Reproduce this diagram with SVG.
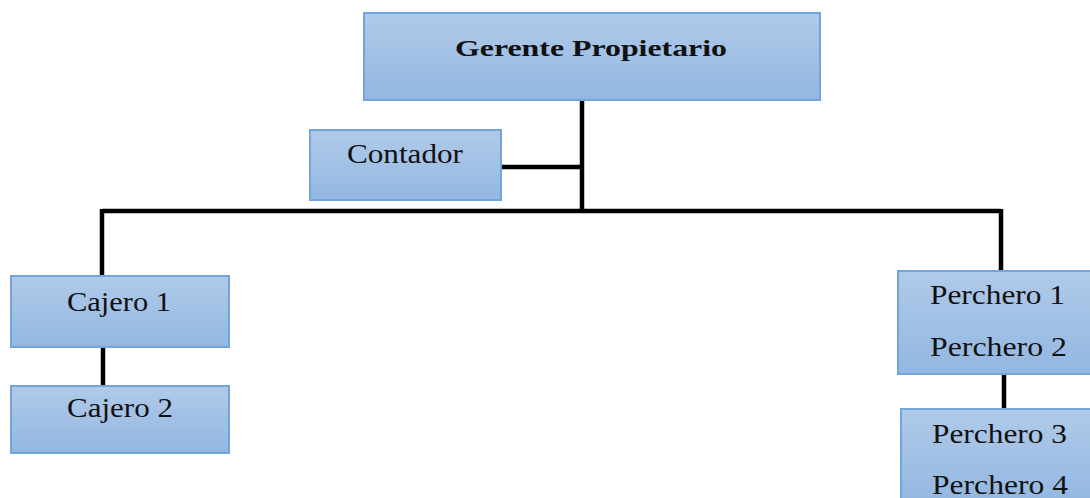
<svg xmlns="http://www.w3.org/2000/svg" width="1090" height="498" viewBox="0 0 1090 498">
<defs>
<linearGradient id="g" x1="0" y1="0" x2="0" y2="1">
<stop offset="0" stop-color="#b0cae9"/>
<stop offset="1" stop-color="#93b7e1"/>
</linearGradient>
</defs>
<style>
.box{fill:url(#g);stroke:#72a5dc;stroke-width:2}
.t{font-family:"Liberation Serif","Times New Roman",serif;font-size:27px;fill:#111;text-anchor:start}
.b{font-weight:bold;font-size:24px}
.c{fill:none;stroke:#000;stroke-width:4.5}
</style>
<g id="connectors">
<path class="c" d="M582 100 V211"/>
<path class="c" d="M501 167 H582"/>
<path class="c" d="M102 211 H1001"/>
<path class="c" d="M102 209 V276"/>
<path class="c" d="M1001 209 V271"/>
<path class="c" d="M103 348 V386"/>
<path class="c" d="M1004 374 V409"/>
</g>
<g id="gerente">
<rect class="box" x="364" y="13" width="456" height="87"/>
<text class="t b" x="455" y="56" textLength="272" lengthAdjust="spacingAndGlyphs">Gerente Propietario</text>
</g>
<g id="contador">
<rect class="box" x="310" y="130" width="191" height="70"/>
<text class="t" x="347" y="163" textLength="116" lengthAdjust="spacingAndGlyphs">Contador</text>
</g>
<g id="cajero1">
<rect class="box" x="11" y="276" width="218" height="71"/>
<text class="t" x="67" y="311" textLength="104" lengthAdjust="spacingAndGlyphs">Cajero 1</text>
</g>
<g id="cajero2">
<rect class="box" x="11" y="386" width="218" height="67"/>
<text class="t" x="67" y="417" textLength="106" lengthAdjust="spacingAndGlyphs">Cajero 2</text>
</g>
<g id="perchero12">
<rect class="box" x="898" y="271" width="195" height="103"/>
<text class="t" x="930" y="304" textLength="135" lengthAdjust="spacingAndGlyphs">Perchero 1</text>
<text class="t" x="930" y="356" textLength="137" lengthAdjust="spacingAndGlyphs">Perchero 2</text>
</g>
<g id="perchero34">
<rect class="box" x="901" y="409" width="192" height="95"/>
<text class="t" x="932" y="443" textLength="135" lengthAdjust="spacingAndGlyphs">Perchero 3</text>
<text class="t" x="932" y="494" textLength="136" lengthAdjust="spacingAndGlyphs">Perchero 4</text>
</g>
</svg>
